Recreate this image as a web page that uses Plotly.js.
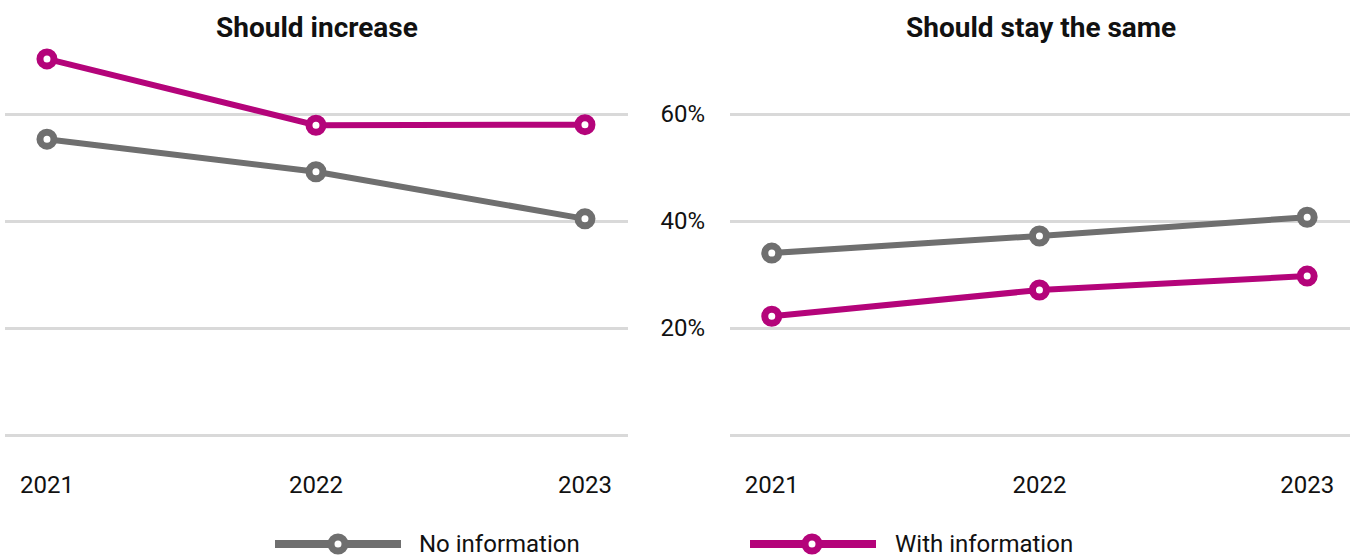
<!DOCTYPE html>
<html>
<head>
<meta charset="utf-8">
<script src="https://cdn.plot.ly/plotly-3.0.1.min.js"></script>
<style>html,body{margin:0;padding:0;background:#fff;}#chart{width:1359px;height:557px;}</style>
</head>
<body>
<div id="chart"></div>
<script>
// Data
const years = ['2021', '2022', '2023'];
const increaseNoInfo = [55.3, 49.2, 40.4];
const increaseWithInfo = [70.3, 57.9, 58.0];
const sameNoInfo = [34.0, 37.2, 40.7];
const sameWithInfo = [22.2, 27.1, 29.7];
const panelTitles = ['Should increase', 'Should stay the same'];
const seriesNames = ['No information', 'With information'];
const yTickVals = [0, 20, 40, 60];
const yTickText = ['', '20%', '40%', '60%'];

const GRAY = '#6f6f6f';
const MAGENTA = '#b4047a';
const FONT = 'Roboto, "DejaVu Sans", sans-serif';
const W = 1359, H = 557;
const px = v => v / W;
const py = v => 1 - v / H;

function lineTrace(y, color, xa, ya, name) {
  return {
    x: years, y: y, xaxis: xa, yaxis: ya, name: name,
    type: 'scatter', mode: 'lines+markers', showlegend: false,
    line: {color: color, width: 6},
    marker: {symbol: 'circle', size: 14, color: '#ffffff', line: {color: color, width: 7}},
    hoverinfo: 'x+y+name'
  };
}

const data = [
  lineTrace(increaseNoInfo, GRAY, 'x', 'y', seriesNames[0]),
  lineTrace(increaseWithInfo, MAGENTA, 'x', 'y', seriesNames[1]),
  lineTrace(sameNoInfo, GRAY, 'x2', 'y2', seriesNames[0]),
  lineTrace(sameWithInfo, MAGENTA, 'x2', 'y2', seriesNames[1])
];

const yDomain = [py(461.75), py(33.75)];
const xBase = {
  type: 'category', categoryorder: 'array', categoryarray: years,
  range: [-0.156, 2.16], showgrid: false, zeroline: false, showline: false,
  ticks: '', ticklabelstandoff: 6,
  tickfont: {family: FONT, size: 24, color: '#111'}
};
const yBase = {
  range: [-5, 75], tickvals: yTickVals, ticktext: yTickText,
  showgrid: true, gridcolor: '#d9d9d9', gridwidth: 3,
  zeroline: false, showline: false, ticks: '',
  tickfont: {family: FONT, size: 24, color: '#111'},
  domain: yDomain
};

const legendItems = [
  {x0: 275, x1: 401, cx: 338, tx: 417, color: GRAY, text: seriesNames[0]},
  {x0: 750, x1: 876, cx: 812, tx: 893, color: MAGENTA, text: seriesNames[1]}
];
const legY = 544;
const shapes = [];
const annotations = [];
legendItems.forEach(it => {
  shapes.push({type: 'line', xref: 'paper', yref: 'paper', x0: px(it.x0), x1: px(it.x1), y0: py(legY), y1: py(legY), line: {color: it.color, width: 8}});
  shapes.push({type: 'circle', xref: 'paper', yref: 'paper', xsizemode: 'pixel', ysizemode: 'pixel',
    xanchor: px(it.cx), yanchor: py(legY), x0: -7, x1: 7, y0: -7, y1: 7,
    fillcolor: '#ffffff', line: {color: it.color, width: 7}});
  annotations.push({xref: 'paper', yref: 'paper', x: px(it.tx), y: py(legY), xanchor: 'left', yanchor: 'middle',
    text: it.text, showarrow: false, font: {family: FONT, size: 24, color: '#111'}});
});
annotations.push({xref: 'paper', yref: 'paper', x: px(317), y: py(27), xanchor: 'center', yanchor: 'middle',
  text: '<b>' + panelTitles[0] + '</b>', showarrow: false, font: {family: FONT, size: 28, color: '#111'}});
annotations.push({xref: 'paper', yref: 'paper', x: px(1041), y: py(27), xanchor: 'center', yanchor: 'middle',
  text: '<b>' + panelTitles[1] + '</b>', showarrow: false, font: {family: FONT, size: 28, color: '#111'}});

const layout = {
  width: W, height: H,
  margin: {l: 0, r: 0, t: 0, b: 0, autoexpand: false},
  paper_bgcolor: '#ffffff', plot_bgcolor: '#ffffff',
  showlegend: false,
  xaxis: Object.assign({}, xBase, {domain: [px(5), px(628)], anchor: 'y'}),
  xaxis2: Object.assign({}, xBase, {domain: [px(730), px(1350)], anchor: 'y2'}),
  yaxis: Object.assign({}, yBase, {anchor: 'x', showticklabels: false}),
  yaxis2: Object.assign({}, yBase, {anchor: 'x2', showticklabels: true, ticklabelstandoff: 24}),
  shapes: shapes,
  annotations: annotations
};

Plotly.newPlot('chart', data, layout, {displayModeBar: false, staticPlot: true});
</script>
</body>
</html>
